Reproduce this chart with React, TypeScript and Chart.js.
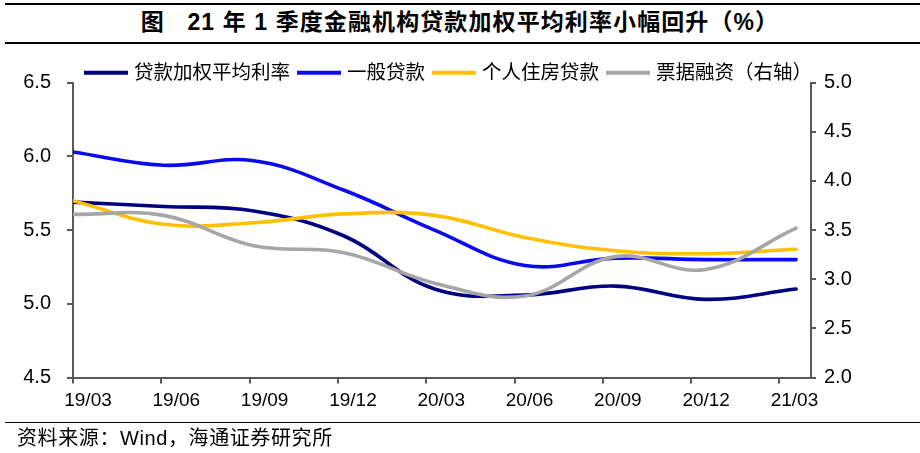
import React, { useEffect, useRef } from "react";
import { Chart, registerables } from "chart.js";

Chart.register(...registerables);

// ---- data ----
const quarterLabels = ["19/03", "19/06", "19/09", "19/12", "20/03", "20/06", "20/09", "20/12", "21/03"];
const quarterIndex = [0, 1, 2, 3, 4, 5, 6, 7, 8];
const seriesNames = ["贷款加权平均利率", "一般贷款", "个人住房贷款", "票据融资（右轴）"];
const loanWeighted = [5.69, 5.66, 5.63, 5.46, 5.1, 5.06, 5.12, 5.03, 5.1];
const generalLoans = [6.03, 5.94, 5.97, 5.77, 5.5, 5.26, 5.31, 5.3, 5.3];
const mortgageLoans = [5.7, 5.54, 5.55, 5.61, 5.6, 5.45, 5.36, 5.34, 5.37];
const billFinancing = [3.66, 3.65, 3.34, 3.27, 2.96, 2.83, 3.23, 3.1, 3.52];
const leftAxisRange = [4.5, 6.5, 0.5];
const rightAxisRange = [2.0, 5.0, 0.5];

const titleText = "图\u00a0\u00a0\u00a021 年 1 季度金融机构贷款加权平均利率小幅回升（%）";
const sourceText = "资料来源：Wind，海通证券研究所";

const colors = ["#000080", "#0a0af0", "#ffc000", "#a6a6a6"];
const axisColor = "#595959";
const latin = '"Liberation Sans", Arial, "Noto Sans CJK SC", sans-serif';
const cjk = '"Liberation Sans", "Noto Sans CJK SC", sans-serif';

const W = 920;
const H = 453;
const PLOT_LEFT = 73;
const PLOT_RIGHT = 811;
const PLOT_TOP = 82.7;
const PLOT_BOTTOM = 377.5;
const X_MAX = 8.165;
const TICK_STEP = 0.977;

const legendPlugin = {
  id: "topLegend",
  afterDraw(chart: any) {
    const ctx = chart.ctx as CanvasRenderingContext2D;
    ctx.save();
    ctx.font = `19.5px ${cjk}`;
    ctx.textBaseline = "middle";
    ctx.textAlign = "left";
    let x = 84;
    const y = chart.chartArea.top - 10;
    chart.data.datasets.forEach((ds: any) => {
      ctx.strokeStyle = ds.borderColor;
      ctx.lineWidth = 4;
      ctx.lineCap = "butt";
      ctx.beginPath();
      ctx.moveTo(x, y);
      ctx.lineTo(x + 44, y);
      ctx.stroke();
      x += 44 + 6;
      ctx.fillStyle = "#000";
      ctx.fillText(ds.label, x, y + 1);
      x += ctx.measureText(ds.label).width + 7;
    });
    ctx.restore();
  },
};

export default function App() {
  const ref = useRef<HTMLCanvasElement | null>(null);

  useEffect(() => {
    if (!ref.current) return;
    const series = [loanWeighted, generalLoans, mortgageLoans, billFinancing];
    const chart = new Chart(ref.current, {
      type: "line",
      data: {
        datasets: series.map((vals, i) => ({
          label: seriesNames[i],
          data: vals.map((v, j) => ({ x: quarterIndex[j], y: v })),
          borderColor: colors[i],
          backgroundColor: colors[i],
          borderWidth: 3.6,
          pointRadius: 0,
          tension: 0.4,
          borderCapStyle: "round" as const,
          yAxisID: i === 3 ? "y1" : "y",
          order: 3 - i,
        })),
      },
      options: {
        animation: false,
        responsive: false,
        maintainAspectRatio: false,
        layout: { padding: { top: PLOT_TOP, left: 0, right: 0, bottom: 0 } },
        plugins: {
          legend: { display: false },
          title: { display: false },
          tooltip: { enabled: false },
        },
        scales: {
          x: {
            type: "linear",
            min: 0,
            max: X_MAX,
            afterBuildTicks: (s: any) => {
              s.ticks = quarterLabels.map((_, i) => ({ value: i * TICK_STEP }));
            },
            afterFit: (s: any) => {
              s.height = H - PLOT_BOTTOM;
            },
            ticks: {
              autoSkip: false,
              maxRotation: 0,
              minRotation: 0,
              labelOffset: 15,
              padding: 6,
              color: "#000",
              font: { family: latin, size: 19 },
              callback: (_v: any, i: number) => quarterLabels[i],
            },
            grid: { drawOnChartArea: false, tickLength: 6, color: axisColor, lineWidth: 2 },
            border: { color: axisColor, width: 2 },
          },
          y: {
            type: "linear",
            position: "left",
            min: leftAxisRange[0],
            max: leftAxisRange[1],
            afterFit: (s: any) => {
              s.width = PLOT_LEFT;
            },
            ticks: {
              stepSize: leftAxisRange[2],
              padding: 16,
              color: "#000",
              font: { family: latin, size: 20 },
              callback: (v: any) => Number(v).toFixed(1),
            },
            grid: { drawOnChartArea: false, tickLength: 6, color: axisColor, lineWidth: 2 },
            border: { color: axisColor, width: 2 },
          },
          y1: {
            type: "linear",
            position: "right",
            min: rightAxisRange[0],
            max: rightAxisRange[1],
            afterFit: (s: any) => {
              s.width = W - PLOT_RIGHT;
            },
            ticks: {
              stepSize: rightAxisRange[2],
              padding: 8,
              color: "#000",
              font: { family: latin, size: 20 },
              callback: (v: any) => Number(v).toFixed(1),
            },
            grid: { drawOnChartArea: false, tickLength: 5, color: axisColor, lineWidth: 2 },
            border: { color: axisColor, width: 2 },
          },
        },
      },
      plugins: [legendPlugin],
    });
    return () => chart.destroy();
  }, []);

  return (
    <div style={{ position: "fixed", left: 0, top: 0, width: W, height: H, background: "#fff", overflow: "hidden" }}>
      <div style={{ position: "absolute", left: 5, right: 0, top: 3, height: 1.5, background: "#000" }} />
      <div
        style={{
          position: "absolute",
          left: 0,
          width: W,
          top: 9,
          height: 26,
          lineHeight: "26px",
          textAlign: "center",
          fontFamily: cjk,
          fontWeight: 700,
          fontSize: 23,
          letterSpacing: 1.1,
          whiteSpace: "pre",
          color: "#000",
        }}
      >
        {titleText}
      </div>
      <div style={{ position: "absolute", left: 5, right: 0, top: 42, height: 1.5, background: "#000" }} />
      <canvas ref={ref} width={W} height={H} style={{ position: "absolute", left: 0, top: 0, width: W, height: H }} />
      <div style={{ position: "absolute", left: 5, right: 0, top: 421.5, height: 1.5, background: "#000" }} />
      <div
        style={{
          position: "absolute",
          left: 17,
          top: 427,
          height: 22,
          lineHeight: "22px",
          fontFamily: cjk,
          fontSize: 20,
          letterSpacing: 0.6,
          whiteSpace: "pre",
          color: "#000",
        }}
      >
        {sourceText}
      </div>
    </div>
  );
}
